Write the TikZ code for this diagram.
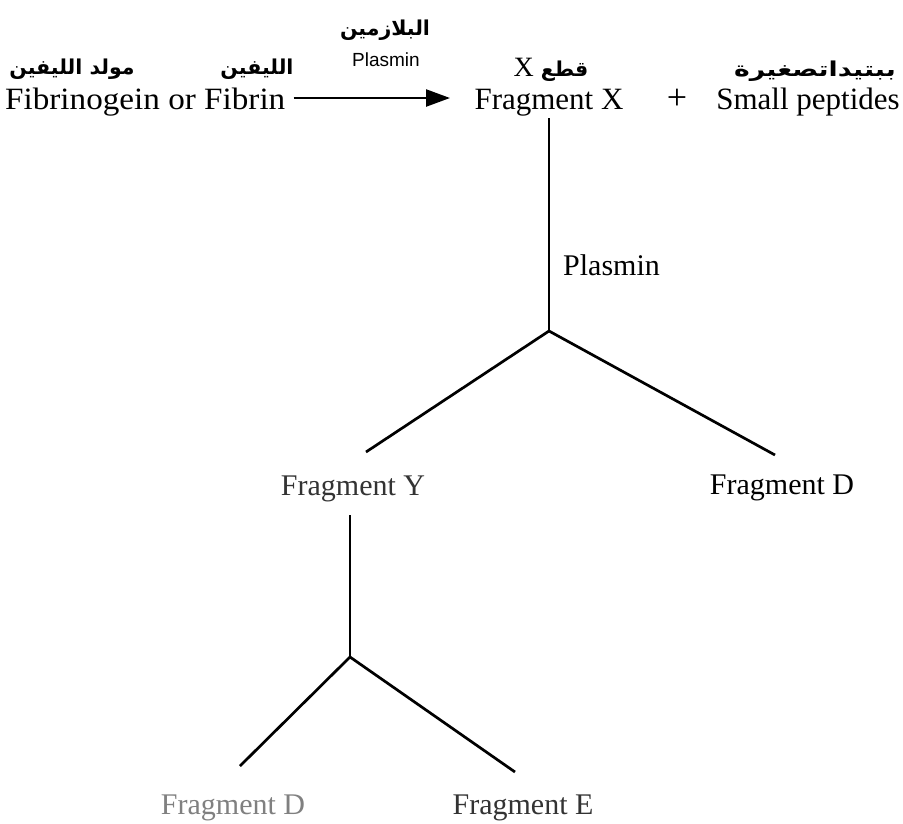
\documentclass[tikz,border=0pt]{standalone}
\usepackage{fontspec}
\setmainfont{Liberation Serif}
\newfontfamily\arfont[Script=Arabic]{DejaVu Sans}
\newfontfamily\lsans{Liberation Sans}
\TeXXeTstate=1
\usetikzlibrary{arrows.meta}
\begin{document}
\begin{tikzpicture}[x=1pt,y=-1pt,
  lbl/.style={inner sep=0pt,anchor=base},
  big/.style={lbl,font=\fontsize{31}{31}\selectfont},
  mid/.style={lbl,font=\fontsize{30}{30}\selectfont},
  ar/.style={lbl,font=\arfont\bfseries\fontsize{20.5}{20.5}\selectfont},
  line/.style={line width=2.7pt},
  arr/.style={line width=2.4pt,-{Triangle[length=24pt,width=17pt]}}]
\useasboundingbox (0,0) rectangle (903,823);
% top row
\node[big,anchor=base west] (src) at (5,109) {\scalebox{1.07}[1]{Fibrinogein or Fibrin}};
\node[ar] (arsrc1) at (72,74) {\beginR مولد الليفين\endR};
\node[ar] (arsrc2) at (257,74) {\beginR الليفين\endR};
\node[big] (fx) at (549,109) {Fragment X};
\node[lbl,font=\fontsize{36}{36}\selectfont] (plus) at (677,109) {+};
\node[big] (sp) at (808,109) {Small peptides};
\node[ar] (arfx) at (551,76) {\beginR قطع \beginL{\rmfamily\mdseries\fontsize{28}{28}\selectfont X}\endL\endR};
\node[ar] (arsp) at (815,76) {\scalebox{1.3}[1]{\beginR ببتيداتصغيرة\endR}};
\coordinate (tip) at (450,98);
\draw[arr] (src.east |- tip) ++(8,0) coordinate (tail) -- (tip);
\node[lbl,font=\lsans\fontsize{19}{19}\selectfont] (pl1) at (386,66) {Plasmin};
\node[ar] (arpl) at (385,35) {\beginR البلازمين\endR};
% tree
\coordinate (top1) at (549,118);
\coordinate (j1) at (549,331);
\coordinate (ey) at (366,452);
\coordinate (ed) at (775,455);
\draw[line] (top1) -- (j1);
\draw[line] (j1) -- (ey);
\draw[line] (j1) -- (ed);
\node[mid,anchor=base west] (pl2) at (563,275) {Plasmin};
\node[mid,text=black!80] (fy) at (353,495) {Fragment Y};
\node[mid] (fd1) at (782,494) {Fragment D};
\coordinate (top2) at (350,515);
\coordinate (j2) at (350,657);
\coordinate (ed2) at (240,766);
\coordinate (ee) at (515,772);
\draw[line] (top2) -- (j2);
\draw[line] (j2) -- (ed2);
\draw[line] (j2) -- (ee);
\node[mid,text=black!50] (fd2) at (233,814) {Fragment D};
\node[mid,text=black!80] (fe) at (523,814) {Fragment E};
\end{tikzpicture}
\end{document}
